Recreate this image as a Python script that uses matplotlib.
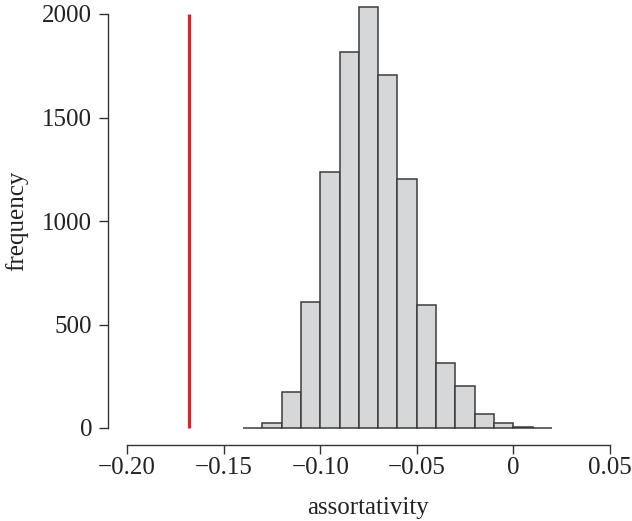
"""Histogram of assortativity under randomisation, observed value in red."""
import matplotlib
matplotlib.use("Agg")
import matplotlib.pyplot as plt

# bin left edges (width 0.01) and counts
bin_left = [-0.14, -0.13, -0.12, -0.11, -0.10, -0.09, -0.08, -0.07,
            -0.06, -0.05, -0.04, -0.03, -0.02, -0.01, 0.00, 0.01]
counts = [0, 24, 174, 609, 1237, 1816, 2034, 1705,
          1203, 594, 314, 203, 68, 24, 6, 1]
bin_width = 0.01
observed = -0.168

xticks = [-0.20, -0.15, -0.10, -0.05, 0.0, 0.05]
xticklabels = ["\u22120.20", "\u22120.15", "\u22120.10", "\u22120.05", "0", "0.05"]
yticks = [0, 500, 1000, 1500, 2000]

plt.rcParams["font.family"] = ["Liberation Serif", "DejaVu Serif"]

W, H = 632, 521
fig = plt.figure(figsize=(W / 100, H / 100), dpi=100, facecolor="white")
ax = fig.add_axes([127 / W, (H - 428) / H, (610 - 127) / W, (428 - 14) / H])

ax.bar(bin_left, counts, width=bin_width, align="edge", color="#d6d7d9",
       edgecolor="#3c3c3c", linewidth=1.1, clip_on=False, zorder=2)
ax.plot([observed, observed], [0, 2000], color="#d7262e", linewidth=2.3,
        solid_capstyle="butt", clip_on=False, zorder=3)

ax.set_xlim(-0.20, 0.05)
ax.set_ylim(0, 2000)

for sp in ("top", "right"):
    ax.spines[sp].set_visible(False)
ax.spines["left"].set_position(("outward", 13.5))
ax.spines["bottom"].set_position(("outward", 12.2))
ax.spines["left"].set_bounds(0, 2000)
ax.spines["bottom"].set_bounds(-0.20, 0.05)
for sp in ("left", "bottom"):
    ax.spines[sp].set_color("#333333")
    ax.spines[sp].set_linewidth(1.0)

ax.set_xticks(xticks)
ax.set_xticklabels(xticklabels)
ax.set_yticks(yticks)
ax.tick_params(axis="both", length=6.5, width=1.0, color="#333333",
               labelsize=18, labelcolor="#222222")
ax.tick_params(axis="x", pad=2)
ax.tick_params(axis="y", pad=5)

ax.set_xlabel("assortativity", fontsize=18, color="#222222", labelpad=13)
ax.set_ylabel("frequency", fontsize=18, color="#222222", labelpad=10)

fig.savefig("out.png", dpi=100, facecolor="white")
